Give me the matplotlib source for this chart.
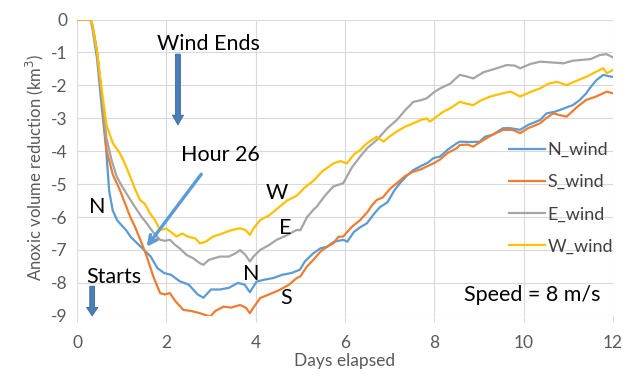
import numpy as np
import matplotlib
matplotlib.use('Agg')
import matplotlib.pyplot as plt

plt.rcParams['font.family'] = ['Lato', 'DejaVu Sans']
plt.rcParams['axes.unicode_minus'] = False

# ---- data (days, km^3) ----
n_day = [0, 0.3, 0.35, 0.45, 0.55, 0.65, 0.72, 0.8, 0.9, 1.0, 1.1, 1.2, 1.35, 1.5, 1.65, 1.8, 1.95,
         2.1, 2.3, 2.5, 2.7, 2.83, 3.0, 3.2, 3.4, 3.6, 3.75, 3.87, 4.02, 4.2, 4.4, 4.6, 4.8, 4.99,
         5.1, 5.29, 5.45, 5.6, 5.75, 5.96, 6.05, 6.2, 6.35, 6.49, 6.65, 6.78, 6.95, 7.1, 7.23, 7.38,
         7.53, 7.7, 7.85, 7.98, 8.13, 8.3, 8.5, 8.57, 8.8, 9.02, 9.13, 9.3, 9.54, 9.7, 9.92, 10.1,
         10.37, 10.51, 10.7, 10.9, 11.1, 11.25, 11.4, 11.5, 11.63, 11.78, 11.9, 12]
n_val = [0, 0, -0.3, -1.2, -2.6, -3.9, -5.2, -5.8, -6.1, -6.25, -6.4, -6.6, -6.8, -7.0, -7.2, -7.55, -7.7,
         -7.75, -7.95, -8.05, -8.35, -8.45, -8.2, -8.2, -8.15, -8.0, -8.05, -8.28, -7.96, -7.9, -7.85, -7.75, -7.7, -7.6,
         -7.35, -7.1, -6.95, -6.9, -6.75, -6.69, -6.75, -6.45, -6.3, -6.19, -5.9, -5.7, -5.55, -5.2, -4.97, -4.75,
         -4.57, -4.45, -4.35, -4.21, -4.16, -3.95, -3.76, -3.71, -3.72, -3.71, -3.56, -3.5, -3.3, -3.3, -3.35, -3.2,
         -3.05, -2.85, -2.8, -2.7, -2.6, -2.45, -2.24, -2.05, -1.84, -1.68, -1.72, -1.74]

s_day = [0, 0.3, 0.35, 0.45, 0.55, 0.66, 0.8, 0.96, 1.08, 1.19, 1.3, 1.45, 1.55, 1.71, 1.86, 1.97, 2.08,
         2.2, 2.38, 2.55, 2.75, 2.98, 3.1, 3.28, 3.45, 3.65, 3.78, 3.87, 3.95, 4.1, 4.3, 4.54, 4.75, 4.92,
         5.0, 5.15, 5.29, 5.45, 5.6, 5.74, 5.85, 5.96, 6.15, 6.34, 6.5, 6.6, 6.71, 6.85, 7.0, 7.16, 7.35,
         7.53, 7.7, 7.85, 7.98, 8.13, 8.3, 8.5, 8.57, 8.75, 8.87, 9.05, 9.3, 9.54, 9.75, 9.92, 10.1, 10.37,
         10.5, 10.66, 10.8, 10.96, 11.2, 11.4, 11.6, 11.86, 12]
s_val = [0, 0, -0.2, -1.0, -2.3, -3.96, -4.7, -5.18, -5.6, -5.99, -6.3, -6.8, -7.15, -7.81, -8.31, -8.35, -8.31,
         -8.55, -8.82, -8.85, -8.92, -9.02, -8.85, -8.72, -8.75, -8.67, -8.75, -8.92, -8.75, -8.46, -8.35, -8.21, -8.05, -7.85,
         -7.8, -7.5, -7.3, -7.05, -6.9, -6.8, -6.6, -6.59, -6.3, -6.09, -5.85, -5.65, -5.48, -5.4, -5.15, -4.97, -4.75,
         -4.62, -4.55, -4.45, -4.37, -4.25, -4.05, -3.91, -3.81, -3.8, -3.86, -3.7, -3.5, -3.35, -3.35, -3.45, -3.3, -3.15,
         -3.0, -2.85, -2.9, -2.95, -2.65, -2.44, -2.35, -2.19, -2.24]

e_day = [0, 0.3, 0.35, 0.45, 0.55, 0.66, 0.78, 0.89, 1.0, 1.15, 1.34, 1.45, 1.56, 1.7, 1.86, 1.97, 2.08,
         2.2, 2.3, 2.45, 2.6, 2.75, 2.83, 2.95, 3.2, 3.4, 3.55, 3.65, 3.77, 3.87, 3.95, 4.1, 4.3, 4.47,
         4.7, 4.92, 5.0, 5.15, 5.29, 5.37, 5.55, 5.74, 5.96, 6.15, 6.34, 6.5, 6.71, 6.95, 7.16, 7.35, 7.53,
         7.7, 7.83, 8.0, 8.13, 8.35, 8.57, 8.7, 8.87, 9.1, 9.35, 9.62, 9.8, 9.92, 10.15, 10.37, 10.6, 10.89,
         11.1, 11.26, 11.5, 11.7, 11.85, 12]
e_val = [0, 0, -0.2, -1.0, -2.2, -3.6, -4.3, -4.77, -5.05, -5.38, -5.78, -6.0, -6.19, -6.45, -6.69, -6.72, -6.69,
         -6.85, -6.95, -7.15, -7.25, -7.4, -7.45, -7.3, -7.2, -7.2, -7.1, -7.0, -7.15, -7.35, -7.2, -7.0, -6.85, -6.69,
         -6.55, -6.39, -6.4, -6.0, -5.78, -5.68, -5.35, -5.07, -4.97, -4.5, -4.16, -3.9, -3.66, -3.3, -3.05, -2.75, -2.5,
         -2.45, -2.39, -2.2, -2.09, -1.95, -1.68, -1.72, -1.79, -1.6, -1.5, -1.38, -1.4, -1.48, -1.35, -1.28, -1.3, -1.33,
         -1.25, -1.23, -1.2, -1.08, -1.05, -1.15]

w_day = [0, 0.3, 0.35, 0.45, 0.55, 0.66, 0.8, 0.96, 1.08, 1.19, 1.3, 1.41, 1.52, 1.63, 1.75, 1.86, 2.0,
         2.1, 2.23, 2.35, 2.5, 2.65, 2.75, 2.88, 3.05, 3.25, 3.45, 3.65, 3.78, 3.87, 3.95, 4.1, 4.3, 4.54,
         4.7, 4.92, 5.1, 5.29, 5.5, 5.74, 5.9, 6.04, 6.2, 6.34, 6.5, 6.71, 6.86, 7.0, 7.16, 7.35, 7.53,
         7.7, 7.83, 7.9, 8.05, 8.2, 8.35, 8.57, 8.7, 8.87, 9.05, 9.25, 9.5, 9.7, 9.8, 9.92, 10.15, 10.37,
         10.55, 10.74, 10.96, 11.2, 11.4, 11.6, 11.78, 11.86, 12]
w_val = [0, 0, -0.2, -1.0, -2.1, -3.2, -3.75, -4.06, -4.4, -4.77, -5.15, -5.48, -5.6, -5.88, -6.1, -6.39, -6.35,
         -6.45, -6.59, -6.5, -6.6, -6.65, -6.8, -6.75, -6.59, -6.5, -6.4, -6.34, -6.4, -6.54, -6.35, -6.09, -5.95, -5.68,
         -5.5, -5.35, -5.1, -4.9, -4.6, -4.37, -4.3, -4.37, -4.1, -3.96, -3.75, -3.56, -3.71, -3.55, -3.4, -3.25, -3.15,
         -3.05, -3.0, -3.1, -2.95, -2.8, -2.7, -2.5, -2.55, -2.6, -2.45, -2.34, -2.25, -2.19, -2.25, -2.34, -2.2, -2.09,
         -1.95, -1.89, -1.99, -1.85, -1.74, -1.6, -1.48, -1.63, -1.53]

fig = plt.figure(figsize=(6.23, 3.76), dpi=100)
ax = fig.add_axes([0.1236, 0.16, 0.8604, 0.788])

ax.plot(n_day, n_val, color='#5B9BD5', lw=1.6, label='N_wind')
ax.plot(s_day, s_val, color='#ED7D31', lw=1.6, label='S_wind')
ax.plot(e_day, e_val, color='#A5A5A5', lw=1.6, label='E_wind')
ax.plot(w_day, w_val, color='#FFC000', lw=1.6, label='W_wind')

ax.set_xlim(0, 12)
ax.set_ylim(-9, 0)
ax.set_xticks(np.arange(0, 13, 2))
ax.set_yticks(np.arange(-9, 1, 1))
ax.grid(True, color='#D9D9D9', lw=0.8)
ax.set_axisbelow(True)
for sp in ax.spines.values():
    sp.set_visible(False)
ax.tick_params(axis='y', length=0, labelsize=12.5, labelcolor='#595959', pad=7)
ax.tick_params(axis='x', length=4, color='#D9D9D9', labelsize=12.5, labelcolor='#595959', pad=10)
ax.set_xlabel('Days elapsed', fontsize=12.5, color='#595959', labelpad=1)
ax.set_ylabel('Anoxic volume reduction (km$^3$)', fontsize=12, color='#595959', labelpad=3)

leg = ax.legend(loc='upper left', bbox_to_anchor=(0.806, 0.587), frameon=False, fontsize=13,
                handlelength=2.0, handletextpad=0.15, labelspacing=0.9, borderaxespad=0, borderpad=0)
for t in leg.get_texts():
    t.set_color('#404040')

# annotations
fs = 15.5
ax.text(2.94, -0.75, 'Wind Ends', fontsize=fs, ha='center', va='center')
ax.annotate('', xy=(2.26, -3.2), xytext=(2.26, -1.05),
            arrowprops=dict(width=3.5, headwidth=8, headlength=7, facecolor='#4A7EBB', edgecolor='#3B6696', lw=0.6))
ax.text(0.83, -7.82, 'Starts', fontsize=fs, ha='center', va='center')
ax.annotate('', xy=(0.34, -9.0), xytext=(0.34, -8.1),
            arrowprops=dict(width=3.5, headwidth=8, headlength=6, facecolor='#4A7EBB', edgecolor='#3B6696', lw=0.6))
ax.text(3.21, -4.11, 'Hour 26', fontsize=fs, ha='center', va='center')
ax.annotate('', xy=(1.52, -6.97), xytext=(2.82, -4.63),
            arrowprops=dict(arrowstyle='->', color='#5B9BD5', lw=2.4, mutation_scale=15))

ax.text(0.46, -5.7, 'N', fontsize=fs, ha='center', va='center')
ax.text(4.47, -5.27, 'W', fontsize=fs, ha='center', va='center')
ax.text(4.66, -6.33, 'E', fontsize=fs, ha='center', va='center')
ax.text(3.89, -7.73, 'N', fontsize=fs, ha='center', va='center')
ax.text(4.68, -8.46, 'S', fontsize=fs, ha='center', va='center')
ax.text(10.2, -8.36, 'Speed = 8 m/s', fontsize=fs, ha='center', va='center')

fig.savefig('out.png', dpi=100)
